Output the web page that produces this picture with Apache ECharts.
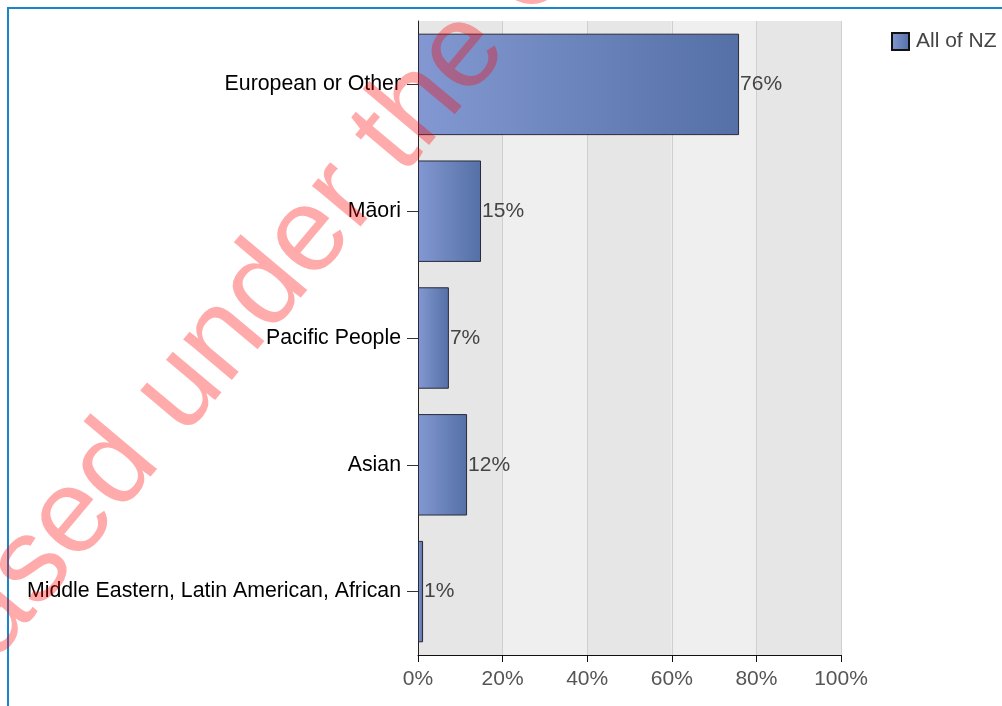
<!DOCTYPE html>
<html>
<head>
<meta charset="utf-8">
<script src="https://cdn.jsdelivr.net/npm/echarts@6/dist/echarts.min.js"></script>
<style>
  html, body { margin: 0; padding: 0; background: #fff; }
  #chart { width: 1002px; height: 706px; }
</style>
</head>
<body>
<div id="chart"></div>
<script>
// categories, top to bottom
const categories = [
  'European or Other',
  'Māori',
  'Pacific People',
  'Asian',
  'Middle Eastern, Latin American, African'
];
// share of population, percent (All of NZ)
const allOfNZ = [75.9, 14.9, 7.3, 11.6, 1.2];
const seriesName = 'All of NZ';
const xTicks = [0, 20, 40, 60, 80, 100];
const watermark = 'Released under the Official Information Act';

const font = 'Liberation Sans, Arial, sans-serif';

// bar fill, light on the left going darker to the right
const barFill = new echarts.graphic.LinearGradient(0, 0, 1, 0, [
  { offset: 0, color: '#8398d2' },
  { offset: 1, color: '#5470a6' }
]);

const chart = echarts.init(document.getElementById('chart'));

chart.setOption({
  animation: false,
  backgroundColor: '#fff',
  textStyle: { fontFamily: font },
  grid: { left: 418, right: 161, top: 21, bottom: 51, containLabel: false },
  legend: {
    data: [seriesName],
    left: 886,
    top: 26,
    itemWidth: 17,
    itemHeight: 17,
    icon: 'rect',
    itemStyle: { borderColor: '#111', borderWidth: 2 },
    textStyle: { fontSize: 21, color: '#444', fontFamily: font, padding: [0, 0, 0, 2] }
  },
  xAxis: {
    type: 'value',
    min: xTicks[0],
    max: xTicks[xTicks.length - 1],
    interval: 20,
    axisLine: { show: true, lineStyle: { color: '#111', width: 1 } },
    axisTick: { show: true, length: 7, lineStyle: { color: '#111' } },
    axisLabel: {
      fontSize: 21, color: '#555', margin: 14, fontFamily: font,
      formatter: v => v + '%'
    },
    splitLine: { show: true, lineStyle: { color: '#cfcfcf', width: 1 } },
    splitArea: { show: true, areaStyle: { color: ['#e6e6e6', '#efefef'] } }
  },
  yAxis: {
    type: 'category',
    data: categories,
    inverse: true,
    axisLine: { show: true, lineStyle: { color: '#222', width: 1 } },
    axisTick: { show: true, length: 11, alignWithLabel: true, lineStyle: { color: '#333' } },
    axisLabel: { fontSize: 21.3, color: '#000', margin: 17, fontFamily: font }
  },
  series: [{
    name: seriesName,
    type: 'bar',
    data: allOfNZ,
    barCategoryGap: '20%',
    itemStyle: { color: barFill, borderColor: '#2a2a3a', borderWidth: 1 },
    label: {
      show: true,
      position: 'right',
      distance: 1,
      fontSize: 21,
      color: '#444',
      fontFamily: font,
      formatter: p => Math.round(p.value) + '%'
    }
  }],
  graphic: [
    {
      type: 'rect',
      silent: true,
      z: 100,
      shape: { x: 8, y: 8, width: 1200, height: 900 },
      style: { fill: 'none', stroke: '#1a86c8', lineWidth: 2 }
    },
    {
      // watermark across the page
      type: 'text',
      silent: true,
      z: 200,
      x: -189,
      y: 830,
      rotation: 50 * Math.PI / 180,
      style: {
        text: watermark,
        fontSize: 120,
        fontFamily: font,
        fill: 'rgba(255, 0, 0, 0.33)',
        textAlign: 'left',
        textVerticalAlign: 'middle'
      }
    }
  ]
});
</script>
</body>
</html>
